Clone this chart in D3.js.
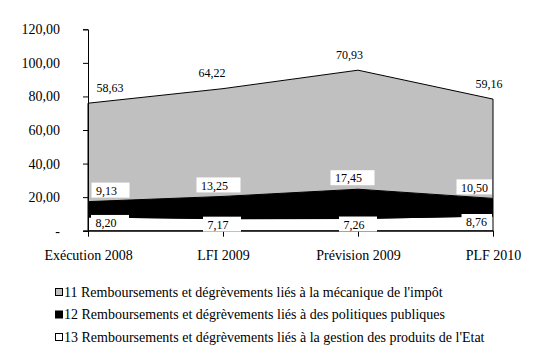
<!DOCTYPE html>
<html><head><meta charset="utf-8">
<script src="https://cdn.jsdelivr.net/npm/d3@7"></script>
</head><body style="margin:0;background:#fff"><div id="c"></div>
<script>
const categories = ["Exécution 2008", "LFI 2009", "Prévision 2009", "PLF 2010"];
const serie13 = [8.20, 7.17, 7.26, 8.76];
const serie12 = [9.13, 13.25, 17.45, 10.50];
const serie11 = [58.63, 64.22, 70.93, 59.16];
const seriesNames = [
  "11 Remboursements et dégrèvements liés à la mécanique de l'impôt",
  "12 Remboursements et dégrèvements liés à des politiques publiques",
  "13 Remboursements et dégrèvements liés à la gestion des produits de l'Etat"
];
const yTicks = [0, 20, 40, 60, 80, 100, 120];

const FONT = "'Liberation Serif', 'Times New Roman', serif";
const W = 553, H = 356;
const svg = d3.select("#c").append("svg").attr("width", W).attr("height", H);
const x = d3.scalePoint().domain(categories).range([88, 493]);
const y = d3.scaleLinear().domain([0, 120]).range([230.7, 29.3]);

const rows = categories.map((c, i) => ({cat: c, s13: serie13[i], s12: serie12[i], s11: serie11[i]}));
const stack = d3.stack().keys(["s13", "s12", "s11"])(rows);
const fills = {s13: "#ffffff", s12: "#000000", s11: "#c0c0c0"};
const area = d3.area().x(d => x(d.data.cat)).y0(d => y(d[0])).y1(d => y(d[1]));

svg.append("g").selectAll("path").data(stack).join("path")
  .attr("d", area).attr("fill", d => fills[d.key])
  .attr("stroke", "#000").attr("stroke-width", 1);

// axes
const fmt = v => v === 0 ? "-" : d3.format(".2f")(v).replace(".", ",");
const ya = svg.append("g").attr("transform", "translate(88,0)")
  .call(d3.axisLeft(y).tickValues(yTicks).tickFormat(fmt).tickSize(5).tickPadding(23));
ya.select(".domain").attr("stroke", "#000");
ya.selectAll("text").style("font-size", "14px").style("font-family", FONT).attr("fill", "#000");
const xa = svg.append("g").attr("transform", "translate(0,230.7)")
  .call(d3.axisBottom(x).tickSize(6).tickPadding(13).tickSizeOuter(0));
xa.select(".domain").attr("d", "M83.5,0.5H493.5");
xa.selectAll("text").style("font-size", "14px").style("font-family", FONT).attr("fill", "#000");

// data labels (label placement offsets)
const lab = svg.append("g");
const [xMin, xMax] = x.range();
function labels(layer, dxs, dyFn, boxed) {
  layer.forEach((d, i) => {
    const v = d[1] - d[0];
    const cx = x(d.data.cat) + dxs[i];
    const cy = dyFn(d);
    const g = lab.append("g");
    const t = g.append("text").attr("x", cx).attr("y", cy).attr("dy", "0.35em")
      .attr("text-anchor", "middle").style("font-family", FONT).style("font-size", "12px")
      .text(d3.format(".2f")(v).replace(".", ","));
    if (boxed) {
      const b = t.node().getBBox();
      const x0 = Math.max(xMin + 1, b.x - 4.5), x1 = Math.min(xMax - 1, b.x + b.width + 12.5);
      g.insert("rect", "text").attr("x", x0).attr("y", cy - 8)
        .attr("width", x1 - x0).attr("height", 15).attr("fill", "#fff");
    }
  });
}
labels(stack[2], [22, -11, -8.5, -4], d => y(d[1]) - 15.5, false);
labels(stack[1], [18.5, -8.5, -9.5, -18.5], d => y(d[1]) - 11, true);
labels(stack[0], [18, -5, -4, -16.5], d => y(d[1]) + 6, true);

// legend
const lg = svg.append("g").attr("transform", "translate(55,0)");
const legFills = ["#c0c0c0", "#000000", "#ffffff"];
seriesNames.forEach((n, i) => {
  const yy = 292 + i * 22.5;
  lg.append("rect").attr("x", 0.5).attr("y", yy - 3.5).attr("width", 7).attr("height", 7)
    .attr("fill", legFills[i]).attr("stroke", "#000");
  lg.append("text").attr("x", 9).attr("y", yy).attr("dy", "0.35em")
    .style("font-family", FONT).style("font-size", "14px").text(n);
});
</script></body></html>
